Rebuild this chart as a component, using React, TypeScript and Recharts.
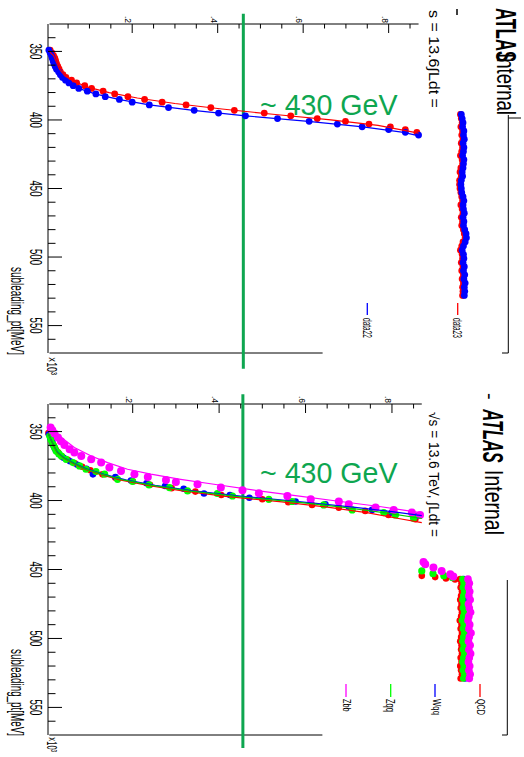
import React from 'react';
import { ScatterChart, Scatter, XAxis, YAxis, ReferenceLine } from 'recharts';

const FONT = '"Liberation Sans", Arial, Helvetica, sans-serif';
const GREEN = '#0ea650';

// ---- top panel: data23 / data22 turn-on (pt in GeV, efficiency) ----
const turnOnPt = [349, 351, 353, 355, 357, 359, 361, 363, 365, 367, 369, 371, 373, 375, 377, 379, 381, 383, 385, 387, 389, 391, 393, 395, 397, 399, 401, 403, 405, 407, 409];
const data23Eff = [0.008, 0.012, 0.016, 0.019, 0.021, 0.023, 0.026, 0.029, 0.032, 0.038, 0.045, 0.058, 0.070, 0.089, 0.105, 0.132, 0.159, 0.190, 0.229, 0.270, 0.326, 0.384, 0.439, 0.509, 0.571, 0.633, 0.699, 0.754, 0.804, 0.839, 0.866];
const data22Pt = [349, 351, 353, 355, 357, 359, 361, 363, 365, 367, 369, 371, 373, 375, 377, 379, 381, 383, 385, 387, 389, 391, 393, 395, 397, 399, 401, 403, 405, 407, 409, 411];
const data22Eff = [0.005, 0.008, 0.011, 0.013, 0.015, 0.017, 0.020, 0.023, 0.028, 0.032, 0.037, 0.044, 0.052, 0.062, 0.075, 0.095, 0.115, 0.137, 0.170, 0.200, 0.240, 0.285, 0.345, 0.402, 0.465, 0.540, 0.614, 0.680, 0.738, 0.800, 0.839, 0.870];

const plateauPt = [396, 399, 402, 405, 408, 411, 414, 417, 420, 423, 426, 429, 432, 435, 438, 441, 444, 447, 450, 453, 456, 459, 462, 465, 468, 471, 474, 477, 480, 483, 486, 489, 492, 495, 498, 501, 504, 507, 510, 513, 516, 519, 522, 525, 528];
const data23Plateau = [0.968, 0.970, 0.972, 0.969, 0.973, 0.971, 0.974, 0.970, 0.973, 0.971, 0.968, 0.972, 0.973, 0.969, 0.967, 0.970, 0.966, 0.966, 0.967, 0.969, 0.971, 0.973, 0.969, 0.972, 0.974, 0.970, 0.973, 0.971, 0.975, 0.977, 0.979, 0.974, 0.971, 0.968, 0.972, 0.973, 0.970, 0.974, 0.971, 0.975, 0.972, 0.975, 0.973, 0.974, 0.973];
const data22Plateau = [0.970, 0.972, 0.974, 0.973, 0.976, 0.975, 0.977, 0.974, 0.976, 0.975, 0.973, 0.976, 0.975, 0.974, 0.972, 0.973, 0.970, 0.969, 0.970, 0.971, 0.974, 0.976, 0.974, 0.975, 0.977, 0.974, 0.976, 0.975, 0.978, 0.981, 0.982, 0.979, 0.975, 0.972, 0.975, 0.976, 0.974, 0.977, 0.975, 0.978, 0.976, 0.979, 0.977, 0.978, 0.977];

const fit23Pt = [349.5, 353, 358, 363, 368, 372, 376, 380, 384, 388, 392, 396, 400, 404, 409.6];
const fit23Eff = [0.004, 0.016, 0.023, 0.030, 0.043, 0.064, 0.096, 0.146, 0.212, 0.300, 0.410, 0.535, 0.665, 0.775, 0.870];
const fit22Pt = [349.5, 354, 359, 364, 369, 373, 377, 381, 385, 389, 393, 397, 401, 405, 409, 411.8];
const fit22Eff = [0.003, 0.011, 0.017, 0.025, 0.037, 0.052, 0.075, 0.113, 0.168, 0.240, 0.343, 0.465, 0.612, 0.740, 0.835, 0.873];

// ---- bottom panel: QCD / Wqq / Zqq / Zbb ----
const qcdPt = [351, 354, 357, 360, 362.5, 365, 368, 370.5, 373, 375.5, 378, 381, 383.5, 386, 388.5, 391, 393.5, 396, 399.1, 401.2, 403.2, 405.1, 407.5, 410.4, 413.6, 454.6, 455.5, 456.5, 457.2];
const qcdEff = [0.005, 0.009, 0.013, 0.017, 0.021, 0.027, 0.036, 0.050, 0.066, 0.083, 0.102, 0.130, 0.160, 0.200, 0.240, 0.290, 0.345, 0.405, 0.500, 0.560, 0.615, 0.677, 0.738, 0.792, 0.854, 0.869, 0.900, 0.925, 0.946];
const wqqPt = [352, 355, 358, 361, 363.5, 366.5, 369, 371.5, 374, 377, 381, 383, 385.5, 387.5, 389.5, 391.5, 394.9, 396, 398, 400.7, 402.7, 404.5, 406.8, 408.7, 411.2];
const wqqEff = [0.006, 0.010, 0.014, 0.018, 0.022, 0.030, 0.040, 0.055, 0.072, 0.093, 0.108, 0.160, 0.196, 0.232, 0.275, 0.318, 0.365, 0.425, 0.470, 0.577, 0.646, 0.700, 0.754, 0.800, 0.858];
const zqqPt = [353.2, 356, 359.2, 361.5, 364.1, 366, 367.7, 370.1, 372.5, 374.9, 377.3, 379, 380.9, 384.6, 386.2, 388.7, 390.6, 393, 394.9, 396.7, 399.1, 400.7, 403.2, 406.8, 408.7, 410.4, 412.8, 451, 453, 454.5, 456];
const zqqEff = [0.008, 0.011, 0.015, 0.019, 0.023, 0.029, 0.035, 0.046, 0.062, 0.077, 0.092, 0.115, 0.135, 0.165, 0.200, 0.238, 0.285, 0.327, 0.396, 0.431, 0.515, 0.569, 0.642, 0.708, 0.781, 0.808, 0.850, 0.869, 0.895, 0.920, 0.940];
const zbbPt = [347.1, 349, 351.4, 354.3, 357, 359.7, 362.8, 365.2, 367.7, 370.1, 372.5, 376.1, 378.6, 380.9, 382.9, 385.1, 386.5, 388.2, 390.6, 392.5, 394.7, 396.7, 399.1, 400.7, 402.7, 405.1, 406.8, 408.7, 410.4, 444.5, 446.2, 448.6, 451, 453.4, 455];
const zbbEff = [0.010, 0.014, 0.019, 0.027, 0.034, 0.042, 0.054, 0.065, 0.081, 0.104, 0.127, 0.146, 0.173, 0.204, 0.235, 0.277, 0.300, 0.350, 0.404, 0.454, 0.492, 0.558, 0.612, 0.677, 0.700, 0.762, 0.804, 0.846, 0.865, 0.873, 0.877, 0.896, 0.915, 0.935, 0.942];

const plateau2Pt = [457, 460, 463, 466, 469, 472, 475, 478, 481, 484, 487, 490, 493, 496, 499, 502, 505, 508, 511, 514, 517, 520, 523, 526, 529];
const qcdPlateau = [0.958, 0.961, 0.959, 0.962, 0.960, 0.958, 0.961, 0.959, 0.962, 0.960, 0.957, 0.961, 0.959, 0.962, 0.960, 0.958, 0.961, 0.960, 0.962, 0.959, 0.961, 0.958, 0.960, 0.962, 0.959];
const wqqPlateau = [0.966, 0.969, 0.967, 0.970, 0.968, 0.971, 0.967, 0.969, 0.972, 0.968, 0.966, 0.970, 0.968, 0.971, 0.969, 0.967, 0.970, 0.968, 0.972, 0.969, 0.967, 0.970, 0.968, 0.971, 0.969];
const zqqPlateau = [0.963, 0.966, 0.964, 0.967, 0.965, 0.963, 0.966, 0.964, 0.967, 0.965, 0.962, 0.966, 0.964, 0.967, 0.965, 0.963, 0.966, 0.964, 0.967, 0.965, 0.963, 0.966, 0.964, 0.967, 0.965];
const zbbPlateau = [0.976, 0.979, 0.977, 0.980, 0.978, 0.981, 0.977, 0.979, 0.982, 0.978, 0.976, 0.980, 0.978, 0.983, 0.979, 0.977, 0.981, 0.978, 0.982, 0.979, 0.977, 0.980, 0.978, 0.981, 0.979];

const fitZbbPt = [346, 354.3, 361.6, 367.7, 372.5, 377.3, 380.9, 384.6, 388.2, 393, 397, 400.7, 404.5, 408.7];
const fitZbbEff = [0.008, 0.035, 0.065, 0.104, 0.142, 0.188, 0.242, 0.311, 0.388, 0.492, 0.590, 0.681, 0.775, 0.865];
const fitZqqPt = [351, 356, 361, 365, 369, 373, 377, 381, 385, 389, 393, 397, 401, 405, 409, 413];
const fitZqqEff = [0.004, 0.011, 0.019, 0.025, 0.040, 0.063, 0.090, 0.130, 0.178, 0.245, 0.330, 0.440, 0.575, 0.690, 0.785, 0.869];
const fitWqqPt = [351, 356, 361, 365, 369, 373, 377, 381, 385, 389, 393, 397, 401, 405, 408, 411];
const fitWqqEff = [0.004, 0.011, 0.019, 0.026, 0.041, 0.065, 0.093, 0.134, 0.184, 0.252, 0.340, 0.455, 0.590, 0.715, 0.800, 0.869];
const fitQcdPt = [351, 356, 361, 365, 369, 373, 377, 381, 385, 389, 393, 397, 401, 405, 409, 413, 416];
const fitQcdEff = [0.004, 0.011, 0.018, 0.025, 0.039, 0.061, 0.087, 0.125, 0.170, 0.235, 0.315, 0.415, 0.545, 0.655, 0.745, 0.815, 0.869];

const effTicks = [0.05, 0.1, 0.15, 0.2, 0.25, 0.3, 0.35, 0.4, 0.45, 0.5, 0.55, 0.6, 0.65, 0.7, 0.75, 0.8, 0.85];
const ptTicks = [340, 350, 360, 370, 380, 390, 400, 410, 420, 430, 440, 450, 460, 470, 480, 490, 500, 510, 520, 530, 540, 550, 560];

const zip = (pt: number[], eff: number[]) => pt.map((p, i) => ({ pt: p, eff: eff[i] }));

const dot = (r: number, fill: string) => (p: any) => <circle cx={p.cx} cy={p.cy} r={r} fill={fill} />;
const noDot = () => <g />;

function EffTick({ x, y, payload }: any) {
  const v = payload.value;
  const major = Math.abs(v * 5 - Math.round(v * 5)) < 1e-6;
  return (
    <g>
      <line x1={x} y1={y} x2={x} y2={y + (major ? 9 : 4.5)} stroke="#000" strokeWidth={1} />
      {major && (
        <text transform={`translate(${x - 7},${y - 1}) rotate(90)`} textAnchor="end" fontSize={8.5} fontFamily={FONT}>
          {'.' + Math.round(v * 10)}
        </text>
      )}
    </g>
  );
}

function PtTick({ x, y, payload }: any) {
  const v = payload.value;
  const major = v % 50 === 0;
  return (
    <g>
      <line x1={x} y1={y} x2={x + (major ? 14 : 7.5)} y2={y} stroke="#000" strokeWidth={1} />
      {major && (
        <text transform={`translate(30,${y}) rotate(90)`} textAnchor="middle" fontSize={16} textLength={16} lengthAdjust="spacingAndGlyphs" fontFamily={FONT}>
          {v}
        </text>
      )}
    </g>
  );
}

type Series = { data: { pt: number; eff: number }[]; color: string; r: number };
type Fit = { data: { pt: number; eff: number }[]; color: string };

function Panel({ height, bottom, effMin, effMax, series, fits, axisEnd, frameEnd, lineEff, lineTop, lineBottom }: {
  height: number; bottom: number; effMin: number; effMax: number; series: Series[]; fits: Fit[];
  axisEnd: number; frameEnd: number; lineEff: number; lineTop: number; lineBottom: number;
}) {
  return (
    <ScatterChart width={524} height={height} margin={{ top: 0, right: 12, bottom, left: 0 }}>
      <XAxis type="number" dataKey="eff" orientation="top" domain={[effMin, effMax]} ticks={effTicks} interval={0}
        height={24} axisLine={false} tickLine={false} tickSize={0} tickMargin={0} tick={(p: any) => <EffTick {...p} />} />
      <YAxis type="number" dataKey="pt" domain={[330, 570]} reversed ticks={ptTicks} interval={0} width={48}
        axisLine={{ stroke: '#000', strokeWidth: 1 }} tickLine={false} tickSize={0} tickMargin={0} tick={(p: any) => <PtTick {...p} />} />
      <ReferenceLine segment={[{ x: effMin, y: 330 }, { x: axisEnd, y: 330 }]} stroke="#000" strokeWidth={1} ifOverflow="visible" />
      <ReferenceLine segment={[{ x: effMin, y: 570 }, { x: frameEnd, y: 570 }]} stroke="#000" strokeWidth={1} ifOverflow="visible" />
      {series.map((s, i) => (
        <Scatter key={'s' + i} data={s.data} fill={s.color} shape={dot(s.r, s.color)} isAnimationActive={false} />
      ))}
      {fits.map((f, i) => (
        <Scatter key={'f' + i} data={f.data} line={{ stroke: f.color, strokeWidth: 1.2 }} lineType="joint" shape={noDot} isAnimationActive={false} />
      ))}
      <ReferenceLine segment={[{ x: lineEff, y: lineTop }, { x: lineEff, y: lineBottom }]} stroke={GREEN} strokeWidth={3} ifOverflow="visible" />
    </ScatterChart>
  );
}

function VText({ x, y, size, len, anchor = 'start', bold = false, italic = false, fill = '#000', children }: any) {
  return (
    <text transform={`translate(${x},${y}) rotate(90)`} fontSize={size} textLength={len}
      lengthAdjust={len ? 'spacingAndGlyphs' : undefined} textAnchor={anchor}
      fontWeight={bold ? 700 : 400} fontStyle={italic ? 'italic' : 'normal'} fill={fill} fontFamily={FONT}>
      {children}
    </text>
  );
}

export default function App() {
  const topSeries: Series[] = [
    { data: zip(turnOnPt, data23Eff), color: '#ff0000', r: 3.4 },
    { data: zip(plateauPt, data23Plateau), color: '#ff0000', r: 3.4 },
    { data: zip(data22Pt, data22Eff), color: '#0000ff', r: 3.4 },
    { data: zip(plateauPt, data22Plateau), color: '#0000ff', r: 3.4 },
  ];
  const topFits: Fit[] = [
    { data: zip(fit23Pt, fit23Eff), color: '#ff0000' },
    { data: zip(fit22Pt, fit22Eff), color: '#0000ff' },
  ];
  const botSeries: Series[] = [
    { data: zip(qcdPt, qcdEff), color: '#ff0000', r: 3.3 },
    { data: zip(plateau2Pt, qcdPlateau), color: '#ff0000', r: 3.3 },
    { data: zip(wqqPt, wqqEff), color: '#0000ff', r: 3.3 },
    { data: zip(plateau2Pt, wqqPlateau), color: '#0000ff', r: 3.3 },
    { data: zip(zqqPt, zqqEff), color: '#00ff00', r: 3.6 },
    { data: zip(plateau2Pt, zqqPlateau), color: '#00ff00', r: 3.3 },
    { data: zip(zbbPt, zbbEff), color: '#ff00ff', r: 4 },
    { data: zip(plateau2Pt, zbbPlateau), color: '#ff00ff', r: 3.8 },
  ];
  const botFits: Fit[] = [
    { data: zip(fitQcdPt, fitQcdEff), color: '#ff0000' },
    { data: zip(fitWqqPt, fitWqqEff), color: '#0000ff' },
    { data: zip(fitZqqPt, fitZqqEff), color: '#00cc00' },
    { data: zip(fitZbbPt, fitZbbEff), color: '#ff00ff' },
  ];

  return (
    <div style={{ position: 'absolute', left: 0, top: 0, width: 524, height: 757, background: '#fff', overflow: 'hidden', fontFamily: FONT }}>
      <div style={{ position: 'absolute', left: 0, top: 0 }}>
        <Panel height={378} bottom={25} effMin={0.0065} effMax={1.0886} series={topSeries} fits={topFits}
          axisEnd={0.87} frameEnd={0.6455} lineEff={0.46} lineTop={322.5} lineBottom={581.4} />
      </div>
      <div style={{ position: 'absolute', left: 0, top: 380 }}>
        <Panel height={377} bottom={22} effMin={0.0069} effMax={1.0778} series={botSeries} fits={botFits}
          axisEnd={0.869} frameEnd={0.639} lineEff={0.455} lineTop={323} lineBottom={579.5} />
      </div>
      <svg width={524} height={757} style={{ position: 'absolute', left: 0, top: 0, pointerEvents: 'none' }}>
        {/* top panel labels */}
        <VText x={496} y={8} size={29} len={54} bold>ATLAS</VText>
        <VText x={497} y={53} size={26} len={62}>Internal</VText>
        <VText x={429.3} y={10} size={14} len={98}>s = 13.6∫Ldt =</VText>
        <line x1={457} y1={9} x2={457} y2={15} stroke="#000" strokeWidth={1.5} />
        <line x1={457.7} y1={303} x2={457.7} y2={315} stroke="#ff0000" strokeWidth={1.3} />
        <VText x={453} y={318} size={12.5} len={20}>data23</VText>
        <line x1={367.3} y1={303} x2={367.3} y2={315} stroke="#0000ff" strokeWidth={1.3} />
        <VText x={363} y={318} size={12.5} len={20}>data22</VText>
        <line x1={508.3} y1={115} x2={508.3} y2={353} stroke="#000" strokeWidth={1} />
        <line x1={508.3} y1={118} x2={521} y2={118} stroke="#000" strokeWidth={1} />
        <line x1={502} y1={353} x2={508.3} y2={353} stroke="#000" strokeWidth={1} />
        <VText x={10.5} y={355} size={17.5} len={88} anchor="end">subleading_pt[MeV]</VText>
        <VText x={47} y={357} size={15} len={18}>×10³</VText>
        <text x={260} y={115} fontSize={28.6} fill={GREEN} fontFamily={FONT}>~ 430 GeV</text>

        {/* bottom panel labels */}
        <VText x={483} y={393} size={20}>-</VText>
        <VText x={482.7} y={409.3} size={28.8} len={53.4} bold italic>ATLAS</VText>
        <VText x={485} y={470} size={25.5} len={65}>Internal</VText>
        <VText x={429.3} y={412} size={14} len={125}>√s = 13.6 TeV, ∫Ldt =</VText>
        <line x1={480} y1={684} x2={480} y2={697} stroke="#ff0000" strokeWidth={1.3} />
        <VText x={476.7} y={699} size={10.5} len={16}>QCD</VText>
        <line x1={435} y1={684} x2={435} y2={697} stroke="#0000ff" strokeWidth={1.3} />
        <VText x={433} y={699} size={11.5} len={16}>Wqq</VText>
        <line x1={390.7} y1={684} x2={390.7} y2={697} stroke="#00ff00" strokeWidth={1.3} />
        <VText x={386} y={699} size={12.5} len={13}>Zqq</VText>
        <line x1={346} y1={684} x2={346} y2={697} stroke="#ff00ff" strokeWidth={1.3} />
        <VText x={342.7} y={699} size={11} len={12.7}>Zbb</VText>
        <line x1={507.3} y1={580} x2={507.3} y2={735} stroke="#000" strokeWidth={1} />
        <line x1={502} y1={735} x2={507.3} y2={735} stroke="#000" strokeWidth={1} />
        <VText x={10.5} y={736} size={17.5} len={87} anchor="end">subleading_pt[MeV]</VText>
        <VText x={47} y={737} size={14} len={15}>×10³</VText>
        <text x={260} y={483} fontSize={28.6} fill={GREEN} fontFamily={FONT}>~ 430 GeV</text>
      </svg>
    </div>
  );
}
